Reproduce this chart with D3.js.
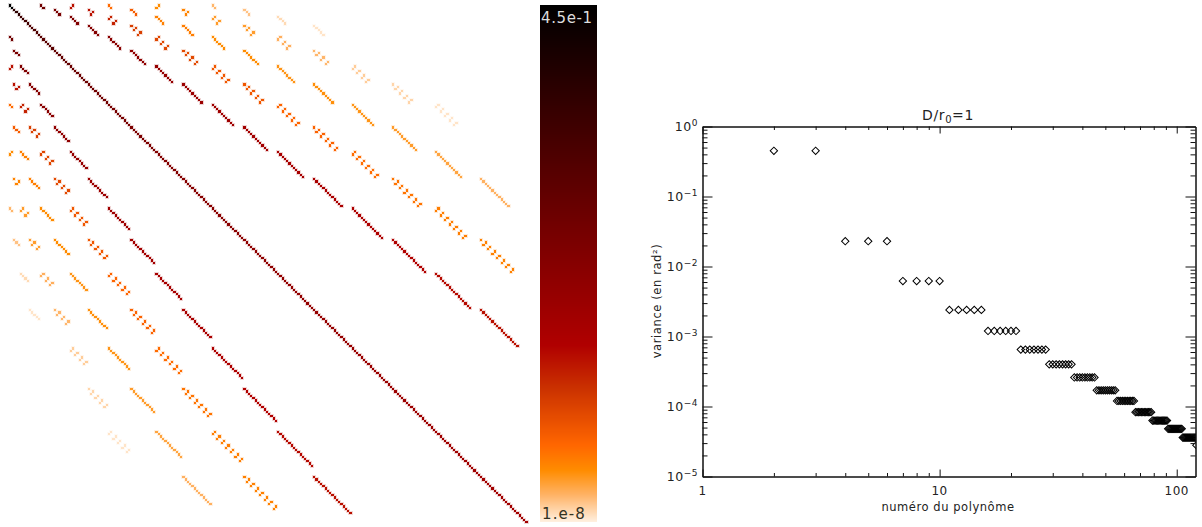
<!DOCTYPE html>
<html><head><meta charset="utf-8">
<script src="https://cdn.jsdelivr.net/npm/d3@7/dist/d3.min.js"></script>
<style>html,body{margin:0;padding:0;background:#fff}svg{display:block}
text{font-family:"DejaVu Sans",sans-serif;fill:#222}</style></head><body>
<svg id="c" width="1202" height="527"></svg>
<script>
// one variance per radial order n = 1..20
const orderVariance=[4.5e-1,2.3e-2,6.2e-3,2.4e-3,1.2e-3,6.5e-4,4e-4,2.6e-4,1.7e-4,1.2e-4,8.3e-5,6.3e-5,4.8e-5,3.6e-5,2.8e-5,2.25e-5,1.8e-5,1.48e-5,1.22e-5,1.02e-5];
const gap4=[2.8e-4,1.6e-4,9.7e-5,7e-5,5e-5,3.4e-5,2.4e-5,1.7e-5,1.3e-5,1e-5,7.5e-6,6e-6,4.8e-6,4e-6,3.2e-6,2.6e-6];
const gap6=[2.5e-6,2.5e-6,1.5e-6,5.8e-7,4.4e-7,4e-7,2.4e-7,2.4e-7,1.5e-7,1.6e-7,1.2e-7,1e-7,8e-8,7.5e-8];
const gap8=[1.3e-7,2e-7,7.6e-8,8e-8,5.8e-8,5.8e-8,4.9e-8,5.4e-8,4.8e-8,4.1e-8,3.4e-8,2.6e-8];
const gap10=[5.8e-8,7e-8,4.1e-8,4e-8,2.7e-8,2.4e-8,1.7e-8,1.5e-8,1.2e-8];
const gap12=[2.4e-8,2e-8,1.4e-8,1.2e-8];
const gaps=[[4,gap4],[6,gap6],[8,gap8],[10,gap10],[12,gap12]];
const rampT=[0,.052,.10,.149,.255,.342,1];
const rampC=["#fff0e0","#ffb366","#ff8c00","#ff6600","#cc3300","#b00000","#000000"];
const valueMin=1e-8,valueMax=4.5e-1;
const xMajor=[1,10,100], xMinor=[2,3,4,5,6,7,8,9,20,30,40,50,60,70,80,90];
const yMajor=[1e0,1e-1,1e-2,1e-3,1e-4,1e-5];
const yExp=["0","\u22121","\u22122","\u22123","\u22124","\u22125"];
const yMinor=[]; for(let e=-5;e<0;e++) for(let k=2;k<10;k++) yMinor.push(k*Math.pow(10,e));

// Zernike modes in Noll order, piston excluded
const modes=[]; let j=1;
for(let n=0;n<=20;n++){
  for(let k=0;k<=n;k++){
    const m=(n%2===0)?(k===0?0:2*Math.ceil(k/2)):(2*Math.floor(k/2)+1);
    if(n>0) modes.push({j,n,m}); j++;
  }
}
const svg=d3.select("#c");
const band=d3.scaleBand().domain(d3.range(modes.length));
const bx=band.copy().range([8.6,527.6]), by=band.copy().range([4.4,523.4]);
const tScale=d3.scaleLog().domain([valueMin,valueMax]).range([0,1]);
const ramp=d3.scaleLinear().domain(rampT).range(rampC).clamp(true);
const lookup=new Map();
orderVariance.forEach((v,i)=>lookup.set((i+1)+"_"+(i+1),v));
gaps.forEach(([g,arr])=>arr.forEach((v,i)=>lookup.set((i+1)+"_"+(i+1+g),v)));
const cells=[];
modes.forEach((a,ia)=>modes.forEach((b,ib)=>{
  if(a.m!==b.m) return;
  if(a.m!==0&&(a.j-b.j)%2!==0) return;
  const key=Math.min(a.n,b.n)+"_"+Math.max(a.n,b.n);
  if(a.n===b.n&&ia!==ib) return;
  if(lookup.has(key)) cells.push({ia,ib,v:lookup.get(key)});
}));
const cx=d=>Math.round(bx(d.ib)), cy=d=>Math.round(by(d.ia));
const cw=d=>Math.round(bx(d.ib)+bx.bandwidth())-cx(d), ch=d=>Math.round(by(d.ia)+by.bandwidth())-cy(d);
// soft fringe left by the resampled image
svg.append("g").attr("shape-rendering","crispEdges").attr("opacity",.16).selectAll("rect").data(cells).join("rect")
  .attr("x",d=>cx(d)-1).attr("y",d=>cy(d)-1).attr("width",d=>cw(d)+2).attr("height",d=>ch(d)+2)
  .attr("fill",d=>ramp(tScale(d.v)));
svg.append("g").attr("shape-rendering","crispEdges").selectAll("rect").data(cells).join("rect")
  .attr("x",cx).attr("y",cy).attr("width",cw).attr("height",ch)
  .attr("fill",d=>ramp(tScale(d.v)));

// colour bar
const barY=d3.scaleLinear().domain([0,1]).range([522,5]);
svg.append("g").attr("shape-rendering","crispEdges").selectAll("rect").data(d3.range(5,522)).join("rect")
  .attr("x",540).attr("width",57).attr("y",d=>d).attr("height",1)
  .attr("fill",d=>ramp(barY.invert(d+.5)));
svg.append("text").attr("x",541).attr("y",23).attr("font-size",15).attr("letter-spacing",.6).style("fill","#ddd").text("4.5e-1");
svg.append("text").attr("x",542).attr("y",519).attr("font-size",15).attr("letter-spacing",1.1).style("fill","#332").text("1.e-8");

// scatter
const x=d3.scaleLog().domain([1,120]).range([702.5,1195.5]);
const y=d3.scaleLog().domain([1e-5,1]).range([476.5,126.5]);
svg.append("defs").append("clipPath").attr("id","pc").append("rect")
  .attr("x",702).attr("y",126).attr("width",494).attr("height",351);
const pts=modes.map(d=>({k:d.j,v:orderVariance[d.n-1]})).filter(d=>d.k<=121);
const sym=d3.symbol().type(d3.symbolSquare).size(27);
svg.append("g").attr("clip-path","url(#pc)").selectAll("path").data(pts).join("path")
  .attr("d",sym).attr("transform",d=>`translate(${x(d.k)},${y(d.v)}) rotate(45)`)
  .attr("fill","none").attr("stroke","#000").attr("stroke-width",1);

function ax(gen,tx,ty,vals,len){
  const g=svg.append("g").attr("transform",`translate(${tx},${ty})`)
    .call(gen.tickValues(vals).tickSize(len).tickSizeOuter(0).tickFormat(""));
  g.selectAll("path").attr("stroke","#111").attr("stroke-width",1);
  g.selectAll("line").attr("stroke","#111");
  return g;
}
ax(d3.axisBottom(x),0,476.5,xMajor,-7); ax(d3.axisBottom(x),0,476.5,xMinor,-3.5);
ax(d3.axisTop(x),0,126.5,xMajor,-7); ax(d3.axisTop(x),0,126.5,xMinor,-3.5);
ax(d3.axisLeft(y),702.5,0,yMajor,-10); ax(d3.axisLeft(y),702.5,0,yMinor,-5);
ax(d3.axisRight(y),1195.5,0,yMajor,-10); ax(d3.axisRight(y),1195.5,0,yMinor,-5);

xMajor.forEach(v=>svg.append("text").attr("x",x(v)).attr("y",495).attr("text-anchor","middle").attr("font-size",12).attr("letter-spacing",.5).text(v));
yMajor.forEach((v,i)=>{
  const t=svg.append("text").attr("x",698).attr("y",y(v)+4.5).attr("text-anchor","end").attr("font-size",12.5).attr("letter-spacing",.5);
  t.append("tspan").text("10");
  t.append("tspan").attr("dy",-5).attr("font-size",9).text(yExp[i]);
});
svg.append("text").attr("x",948).attr("y",511).attr("text-anchor","middle").attr("font-size",11.5).attr("letter-spacing",.55).text("numéro du polynôme");
const tt=svg.append("text").attr("x",948).attr("y",120).attr("text-anchor","middle").attr("font-size",14).attr("letter-spacing",.6);
tt.append("tspan").text("D/r");tt.append("tspan").attr("dy",3).attr("font-size",10).text("0");tt.append("tspan").attr("dy",-3).text("=1");
svg.append("text").attr("transform","translate(661,301) rotate(-90)").attr("text-anchor","middle").attr("font-size",11.5).attr("letter-spacing",.6).text("variance (en rad²)");
</script></body></html>
